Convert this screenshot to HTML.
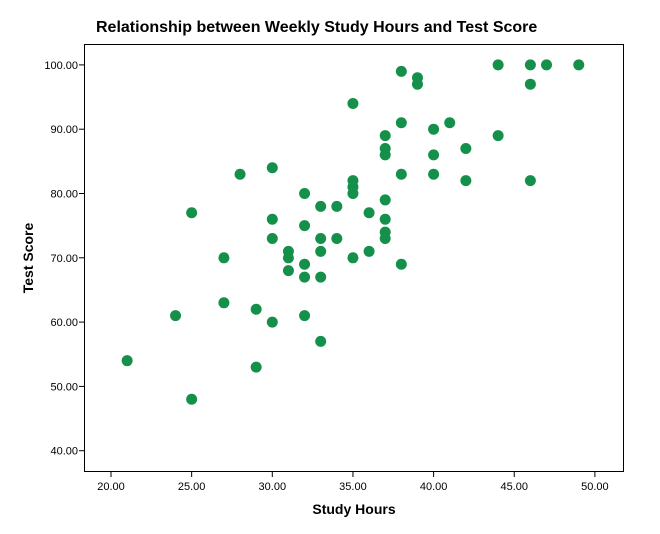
<!DOCTYPE html><html><head><style>body{margin:0;background:#fff}</style></head><body>
<svg width="660" height="529" xmlns="http://www.w3.org/2000/svg" font-family="Liberation Sans, sans-serif">
<rect width="660" height="529" fill="#fff"/>
<text x="96" y="32" font-size="16" font-weight="bold" fill="#000">Relationship between Weekly Study Hours and Test Score</text>
<rect x="84.5" y="44.5" width="539" height="427" fill="none" stroke="#000" stroke-width="1"/>
<g stroke="#000" stroke-width="1" id="ticks"></g>
<g font-size="11" fill="#000" id="lbl"></g>
<g fill="#14904a" id="pts"></g>
<text x="354" y="514" font-size="14" font-weight="bold" text-anchor="middle">Study Hours</text>
<text transform="translate(33,258) rotate(-90)" font-size="14" font-weight="bold" text-anchor="middle">Test Score</text>
</svg>
<script>
const ns="http://www.w3.org/2000/svg";
const X=v=>111+(v-20)*16.13, Y=v=>450.7-(v-40)*6.43;
const t=document.getElementById('ticks'),l=document.getElementById('lbl'),p=document.getElementById('pts');
function el(tag,a,par,txt){const e=document.createElementNS(ns,tag);for(const k in a)e.setAttribute(k,a[k]);if(txt)e.textContent=txt;par.appendChild(e);}
for(let v=20;v<=50;v+=5){el('line',{x1:X(v),x2:X(v),y1:471,y2:477},t);el('text',{x:X(v),y:490,'text-anchor':'middle'},l,v.toFixed(2));}
for(let v=40;v<=100;v+=10){el('line',{x1:79,x2:84,y1:Y(v),y2:Y(v)},t);el('text',{x:78,y:Y(v)+4,'text-anchor':'end'},l,v.toFixed(2));}
const d=[[21,54],[24,61],[25,77],[25,48],[27,70],[27,63],[28,83],[29,62],[29,53],[30,84],[30,76],[30,73],[30,60],[31,71],[31,70],[31,68],[32,80],[32,75],[32,69],[32,67],[32,61],[33,78],[33,73],[33,71],[33,67],[33,57],[34,78],[34,73],[35,94],[35,82],[35,81],[35,80],[35,70],[36,77],[36,71],[37,89],[37,87],[37,86],[37,79],[37,76],[37,74],[37,73],[38,99],[38,91],[38,83],[38,69],[39,98],[39,97],[40,90],[40,86],[40,83],[41,91],[42,87],[42,82],[44,100],[44,89],[46,100],[46,97],[46,82],[47,100],[49,100]];
d.forEach(([a,b])=>el('circle',{cx:X(a),cy:Y(b),r:5.5},p));
</script>
</body></html>
